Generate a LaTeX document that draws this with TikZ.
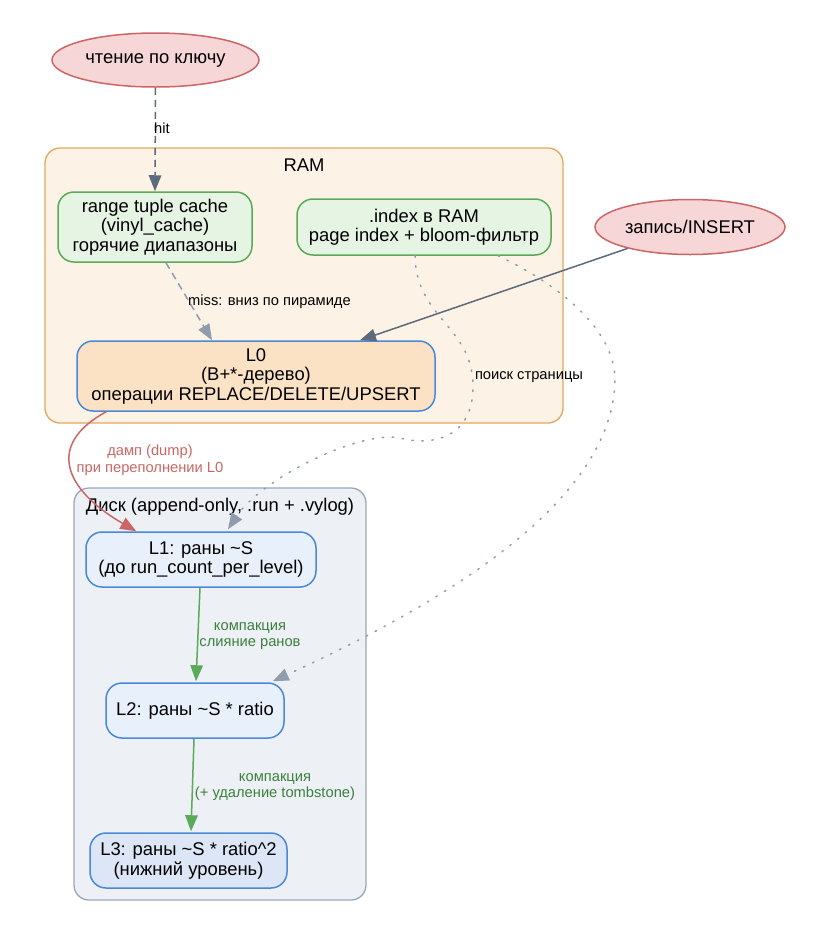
\documentclass[tikz,border=0pt]{standalone}
\usepackage{fontspec}
\setmainfont{Liberation Sans}
\usetikzlibrary{arrows.meta,shapes.geometric,calc}
\definecolor{ellF}{HTML}{F6D6D6}
\definecolor{ellD}{HTML}{CC6666}
\definecolor{ramF}{HTML}{FDF2E6}
\definecolor{ramD}{HTML}{E2A85E}
\definecolor{grnF}{HTML}{E6F4E4}
\definecolor{grnD}{HTML}{5AAA5A}
\definecolor{lzF}{HTML}{FCE2C4}
\definecolor{bluD}{HTML}{4A88D8}
\definecolor{dskF}{HTML}{EDF1F6}
\definecolor{dskD}{HTML}{9AA8B8}
\definecolor{lvF}{HTML}{E8F0FC}
\definecolor{lthF}{HTML}{DCE6F7}
\definecolor{edgD}{HTML}{5B6B7B}
\definecolor{edgL}{HTML}{8E9CAB}
\definecolor{redT}{HTML}{CC6666}
\definecolor{grnT}{HTML}{3D7F3D}
\begin{document}
\begin{tikzpicture}[x=1pt,y=-1pt,
  nodefont/.style={font=\fontsize{18.4}{19.5}\selectfont},
  lblfont/.style={font=\fontsize{14.7}{16.5}\selectfont},
  box/.style={draw, rounded corners=16pt, line width=1.5pt, align=center, inner sep=0pt, nodefont},
  ell/.style={ellipse, draw=ellD, fill=ellF, line width=1.5pt, inner sep=0pt, nodefont},
  cluster/.style={draw, rounded corners=15pt, line width=1.3pt, inner sep=0pt},
  lbl/.style={inner sep=0pt, align=center, lblfont},
  tip/.style={-{Triangle[length=16pt,width=12.5pt]}},
  dashedge/.style={tip, dash pattern=on 7pt off 5pt, line width=1.5pt},
  dotedge/.style={tip, draw=edgL, dash pattern=on 1.5pt off 8.5pt, line width=1.5pt, line cap=round},
  solidedge/.style={tip, line width=1.5pt}
]
\useasboundingbox (0,0) rectangle (818,946);
\fill[white] (0,0) rectangle (818,946);

% clusters
\node[cluster, fill=ramF, draw=ramD, minimum width=518pt, minimum height=275pt] (ram) at (304,285.5) {};
\node[nodefont, inner sep=0pt] (ramlbl) at (304,165) {RAM};
\node[cluster, fill=dskF, draw=dskD, minimum width=292pt, minimum height=412pt] (disk) at (220,694) {};
\node[nodefont, inner sep=0pt] (disklbl) at (220,507) {Диск (append-only, .run + .vylog)};

% nodes
\node[ell, minimum width=207pt, minimum height=54pt] (read) at (155.5,60) {чтение по ключу};
\node[ell, minimum width=190pt, minimum height=55pt] (ins) at (690,227) {запись/INSERT};
\node[box, fill=grnF, draw=grnD, minimum width=194pt, minimum height=70pt] (cache) at (155,227) {range tuple cache\\(vinyl\_cache)\\горячие диапазоны};
\node[box, fill=grnF, draw=grnD, minimum width=254pt, minimum height=56pt] (idx) at (424,227) {.index в RAM\\page index + bloom-фильтр};
\node[box, fill=lzF, draw=bluD, minimum width=358pt, minimum height=70pt] (L0) at (256,376) {L0\\(B+*-дерево)\\операции REPLACE/DELETE/UPSERT};
\node[box, fill=lvF, draw=bluD, minimum width=230pt, minimum height=55pt] (L1) at (201,559.5) {L1: раны \textasciitilde S\\(до run\_count\_per\_level)};
\node[box, fill=lvF, draw=bluD, minimum width=178pt, minimum height=55pt] (L2) at (195,710.5) {L2: раны \textasciitilde S * ratio};
\node[box, fill=lthF, draw=bluD, minimum width=197pt, minimum height=55pt] (L3) at (188.5,860.5) {L3: раны \textasciitilde S * ratio\textasciicircum 2\\(нижний уровень)};

% edges
\draw[dashedge, draw=edgD] (read.south) -- (cache.north);
\node[lbl, anchor=west] (lhit) at (154,128) {hit};

\draw[dashedge, draw=edgL] ($(cache.south)+(11,0)$) -- ($(L0.north)+(-44,0)$);
\node[lbl, anchor=west] (lmiss) at (188,302) {miss: вниз по пирамиде};

\draw[solidedge, draw=edgD] (ins) -- ($(L0.north)+(104,0)$);

\draw[dotedge] ($(idx.south)+(-9,0)$) .. controls (416,318) and (472,326) .. (473,385)
  .. controls (474,440) and (430,446) .. (400,438)
  .. controls (360,430) and (262,478) .. ($(L1.north)+(27,-2)$);
\node[lbl] (lsearch) at (529,377) {поиск страницы};

\draw[dotedge] ($(idx.south)+(74,0)$) .. controls (560,285) and (615,330) .. (615,380)
  .. controls (613,500) and (450,600) .. ($(L2.north east)+(-12,-1)$);

\draw[solidedge, draw=redT] ($(L0.south west)+(30,0)$) .. controls (45,445) and (65,490) .. ($(L1.north west)+(51,0)$);
\node[lbl, text=redT] (ldump) at (150,460) {дамп (dump)\\при переполнении L0};

\draw[solidedge, draw=grnD] ($(L1.south)+(-1,0)$) -- ($(L2.north)+(1,-1)$);
\node[lbl, text=grnT] (lcomp1) at (250,636) {компакция\\слияние ранов};

\draw[solidedge, draw=grnD] ($(L2.south)+(-1,0)$) -- ($(L3.north)+(2.5,-1)$);
\node[lbl, text=grnT] (lcomp2) at (275,787) {компакция\\(+ удаление tombstone)};
\end{tikzpicture}
\end{document}
